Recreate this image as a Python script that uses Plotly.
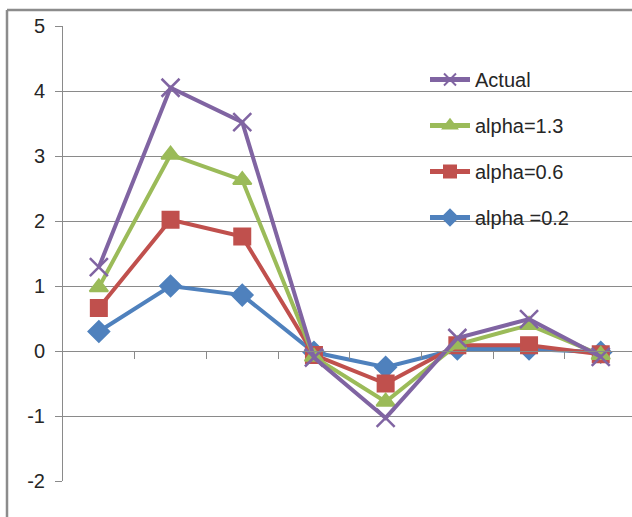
import plotly.graph_objects as go

# Eight consecutive periods on the category axis
periods = [1, 2, 3, 4, 5, 6, 7, 8]

actual = [1.29, 4.05, 3.52, -0.10, -1.03, 0.20, 0.49, -0.09]
alpha_13 = [0.98, 3.02, 2.63, -0.09, -0.78, 0.10, 0.40, -0.06]
alpha_06 = [0.66, 2.02, 1.76, -0.06, -0.50, 0.09, 0.09, -0.05]
alpha_02 = [0.30, 1.00, 0.86, -0.02, -0.25, 0.03, 0.03, -0.02]

y_ticks = [-2, -1, 0, 1, 2, 3, 4, 5]
y_tick_text = ["-2", "-1", "0", "1", "2", "3", "4", "5"]

# (name, values, colour, marker, marker size, legend rank); drawn bottom to top
series = [
    ("alpha =0.2", alpha_02, "#4F81BD", "diamond", 16, 4),
    ("alpha=0.6", alpha_06, "#C0504D", "square", 16, 3),
    ("alpha=1.3", alpha_13, "#9BBB59", "triangle-up", 16, 2),
    ("Actual", actual, "#8064A2", "x-thin", 18, 1),
]

FONT = "Liberation Sans, Arial, sans-serif"
GRID = "#8a8a8a"
TEXT = "#262626"

fig = go.Figure()
xpos = list(range(len(periods)))
for name, vals, color, symbol, size, rank in series:
    fig.add_trace(go.Scatter(
        x=xpos, y=vals, name=name, mode="lines+markers",
        legendrank=rank, legendgroup=name,
        line=dict(color=color, width=4),
        marker=dict(symbol=symbol, size=size, color=color,
                    line=dict(color=color, width=2.5 if symbol == "x-thin" else 2)),
    ))

W, H = 632, 517
left, top, bottom = 63, 26, 36
plot_w = W - left
ph = H - top - bottom
cat_w = 71.7

fig.update_layout(
    width=W, height=H,
    margin=dict(l=left, r=0, t=top, b=bottom, pad=0),
    paper_bgcolor="white", plot_bgcolor="white",
    font=dict(family=FONT, size=20, color=TEXT),
    showlegend=True,
    legend=dict(
        x=(431 - left - 6) / plot_w, y=(H - bottom - 60) / ph,
        xanchor="left", yanchor="top",
        traceorder="grouped", tracegroupgap=17, itemsizing="constant",
        font=dict(family=FONT, size=20, color=TEXT),
        bgcolor="rgba(0,0,0,0)", itemwidth=40,
    ),
    xaxis=dict(
        range=[-0.5, -0.5 + plot_w / cat_w],
        anchor="free", position=2 / 7,
        showgrid=False, zeroline=False,
        showline=True, linecolor=GRID, linewidth=1,
        tickvals=[k + 0.5 for k in range(len(periods))],
        showticklabels=False, ticks="outside", ticklen=7,
        tickcolor=GRID, tickwidth=1,
    ),
    yaxis=dict(
        range=[-2, 5], tickvals=y_ticks, ticktext=y_tick_text,
        showgrid=True, gridcolor=GRID, gridwidth=1,
        zeroline=False, showline=True, linecolor=GRID, linewidth=1,
        ticks="outside", ticklen=7, tickcolor=GRID, tickwidth=1,
        tickfont=dict(family=FONT, size=20, color=TEXT),
        ticklabelstandoff=6,
    ),
)

# Chart-area frame (top and left edges visible)
fig.add_shape(type="line", xref="paper", yref="paper",
              x0=(7 - left) / plot_w, x1=1.05,
              y0=(H - bottom - 10) / ph, y1=(H - bottom - 10) / ph,
              line=dict(color="#8c8c8c", width=2.5))
fig.add_shape(type="line", xref="paper", yref="paper",
              x0=(7 - left) / plot_w, x1=(7 - left) / plot_w,
              y0=(H - bottom - 10) / ph, y1=-0.2,
              line=dict(color="#8c8c8c", width=2.5))

fig.write_html("out.html")
